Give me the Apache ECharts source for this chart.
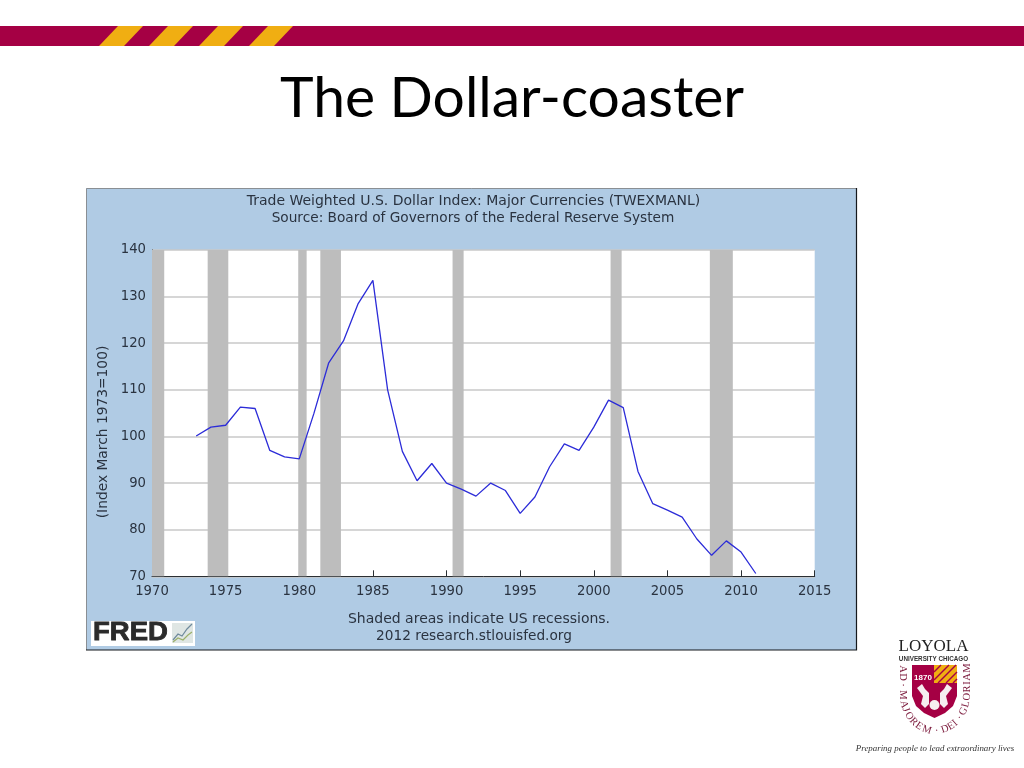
<!DOCTYPE html>
<html><head><meta charset="utf-8">
<style>html,body{margin:0;padding:0;background:#fff}#c{width:1024px;height:768px}</style>
<script src="https://cdn.jsdelivr.net/npm/echarts@6/dist/echarts.min.js"></script>
</head><body><div id="c"></div>
<script>
const years = [1973,1974,1975,1976,1977,1978,1979,1980,1981,1982,1983,1984,1985,1986,1987,1988,1989,1990,1991,1992,1993,1994,1995,1996,1997,1998,1999,2000,2001,2002,2003,2004,2005,2006,2007,2008,2009,2010,2011];
const dollarIndex = [100.1,102,102.4,106.3,106,97,95.6,95.2,105,115.8,120.5,128.5,133.5,110,96.8,90.5,94.2,90,88.7,87.2,90,88.4,83.5,87,93.5,98.4,97,102,107.8,106.2,92.5,85.6,84.2,82.7,78,74.5,77.6,75.2,70.6];
const recessionStarts = [1970,1973.78,1979.93,1981.43,1990.41,2001.14,2007.88];
const recessionEnds = [1970.83,1975.18,1980.5,1982.83,1991.16,2001.89,2009.44];
const chartTitle = 'Trade Weighted U.S. Dollar Index: Major Currencies (TWEXMANL)';
const chartSource = 'Source: Board of Governors of the Federal Reserve System';
const yAxisName = '(Index March 1973=100)';
const noteLines = ['Shaded areas indicate US recessions.', '2012 research.stlouisfed.org'];
const slideTitle = 'The Dollar-coaster';
const motto = 'AD · MAJOREM · DEI · GLORIAM';

const crimson = '#a50044', gold = '#f0ae12', panel = '#b0cbe4', ink = '#2a3340';
const font = '"DejaVu Sans"';
const el = [];
// banner
el.push({type:'rect',shape:{x:0,y:26,width:1024,height:20},style:{fill:crimson}});
[99,149,199,249].forEach(x=>el.push({type:'polygon',shape:{points:[[x,46],[x+19,26],[x+44,26],[x+25,46]]},style:{fill:gold}}));
// chart panel
el.push({type:'rect',z:-10,shape:{x:86,y:188,width:771,height:462},style:{fill:panel}});
el.push({type:'polyline',z:-9,shape:{points:[[86.5,650],[86.5,188.5],[857,188.5]]},style:{stroke:'#8a8f94',fill:null,lineWidth:1}});
el.push({type:'polyline',z:-9,shape:{points:[[86,650],[856.5,650],[856.5,188]]},style:{stroke:'#15181c',fill:null,lineWidth:1.2}});
// y axis title, centred on the reference's position rather than the grid's
el.push({type:'text',x:103,y:432,rotation:Math.PI/2,style:{x:0,y:0,text:yAxisName,font:'13.8px '+font,fill:ink,align:'center',verticalAlign:'middle'}});
// FRED logo
el.push({type:'rect',shape:{x:91,y:621,width:104,height:25},style:{fill:'#fff'}});
el.push({type:'text',x:93,y:633.5,scaleX:1.1,style:{x:0,y:0,text:'FRED',font:'900 25px "Liberation Sans"',fill:'#2b2b2b',verticalAlign:'middle',stroke:'#2b2b2b',lineWidth:0.8}});
el.push({type:'rect',shape:{x:172,y:623,width:21,height:20},style:{fill:'#dfe6e4'}});
el.push({type:'polyline',shape:{points:[[173,640],[178,634],[182,636],[187,629],[192,624]]},style:{stroke:'#6f8a9c',fill:null,lineWidth:1.2}});
el.push({type:'polyline',shape:{points:[[173,642],[178,638],[183,640],[188,635],[192,632]]},style:{stroke:'#9cb06a',fill:null,lineWidth:1.2}});
// Loyola logo
el.push({type:'text',style:{x:933.5,y:647,text:'LOYOLA',font:'17px "Liberation Serif"',fill:'#222',align:'center',verticalAlign:'middle'}});
el.push({type:'text',style:{x:933.5,y:659,text:'UNIVERSITY CHICAGO',font:'bold 6.3px "Liberation Sans"',fill:'#333',align:'center',verticalAlign:'middle'}});
el.push({type:'polygon',shape:{points:[[912,665],[957,665],[957,696],[953,706],[945,713],[934.5,718],[924,713],[916,706],[912,696]]},style:{fill:crimson}});
el.push({type:'rect',shape:{x:934,y:665,width:23,height:18},style:{fill:gold}});
[[934,672,941,665],[934,680,949,665],[938,683,956,665],[946,683,957,672],[953,683,957,679]].forEach(p=>
  el.push({type:'line',shape:{x1:p[0],y1:p[1],x2:p[2],y2:p[3]},style:{stroke:crimson,lineWidth:1.5}}));
el.push({type:'text',style:{x:923,y:678,text:'1870',font:'bold 8px "Liberation Sans"',fill:'#fff',align:'center',verticalAlign:'middle'}});
el.push({type:'polygon',shape:{points:[[917,688],[922,684],[925,689],[929,693],[929,704],[925,708],[921,704],[923,696]]},style:{fill:'#f6eef0'}});
el.push({type:'polygon',shape:{points:[[952,688],[947,684],[944,689],[940,693],[940,704],[944,708],[948,704],[946,696]]},style:{fill:'#f6eef0'}});
el.push({type:'circle',shape:{cx:934.5,cy:705,r:5},style:{fill:'#f6eef0'}});
// motto along a U-shaped path round the shield, spaced by measured glyph width
const mottoFont = '10.5px "Liberation Serif"';
const mc = document.createElement('canvas').getContext('2d'); mc.font = mottoFont;
const path = [];
for (let y=664;y<695;y+=1) path.push([903,y]);
for (let d=180;d>=0;d-=3){const a=d*Math.PI/180;path.push([935+32*Math.cos(a),695+36*Math.sin(a)]);}
for (let y=695;y>=664;y-=1) path.push([967,y]);
const cum=[0]; for(let i=1;i<path.length;i++) cum.push(cum[i-1]+Math.hypot(path[i][0]-path[i-1][0],path[i][1]-path[i-1][1]));
const glyphs = motto.split(''); const widths = glyphs.map(c=>mc.measureText(c).width);
const total = widths.reduce((a,b)=>a+b,0); const k = cum[cum.length-1]/total;
let run = 0;
glyphs.forEach((ch,i)=>{
  const s=(run+widths[i]/2)*k; run+=widths[i];
  let j=1; while(j<cum.length-1&&cum[j]<s) j++;
  const p=path[j],q=path[j-1];
  el.push({type:'text',x:p[0],y:p[1],rotation:-Math.atan2(p[1]-q[1],p[0]-q[0]),
    style:{x:0,y:0,text:ch,font:mottoFont,fill:'#7d1c3e',align:'center',verticalAlign:'middle'}});
});
el.push({type:'text',style:{x:935,y:749,text:'Preparing people to lead extraordinary lives',font:'italic 8.9px "Liberation Serif"',fill:'#333',align:'center',verticalAlign:'middle'}});

const textStyle = {fontFamily:font,fontSize:14,fontWeight:'normal',color:ink};
const smallStyle = {...textStyle,fontSize:13.7};
const axisStyle = {fontFamily:font,fontSize:13.2,color:ink};
const chart = echarts.init(document.getElementById('c'),null,{renderer:'canvas'});
chart.setOption({
  animation:false,
  backgroundColor:'#fff',
  title:[
    {text:slideTitle,left:507,top:65,textAlign:'center',textStyle:{fontFamily:'Lato',fontSize:57,fontWeight:'normal',color:'#000'}},
    {text:chartTitle,left:468.5,top:189.5,textAlign:'center',textStyle},
    {text:chartSource,left:468,top:206.5,textAlign:'center',textStyle:smallStyle},
    {text:noteLines[0],left:474,top:607,textAlign:'center',textStyle},
    {text:noteLines[1],left:469,top:624,textAlign:'center',textStyle:smallStyle}
  ],
  grid:{left:152,top:250,width:662.7,height:326.3,show:true,backgroundColor:'#fff',borderWidth:0,containLabel:false},
  xAxis:{type:'value',min:1970,max:2015,interval:5,
    axisLine:{show:true,lineStyle:{color:'#2a2f33',width:1}},
    axisTick:{show:true,inside:true,length:6,lineStyle:{color:'#2a2f33'}},
    axisLabel:{formatter:v=>String(v),margin:9,showMinLabel:true,showMaxLabel:true,...axisStyle},
    splitLine:{show:false}},
  yAxis:{type:'value',min:70,max:140,interval:10,
    axisLine:{show:true,lineStyle:{color:'#2a2f33',width:1}},
    axisTick:{show:true,inside:true,length:6,lineStyle:{color:'#2a2f33'}},
    axisLabel:{margin:6,showMinLabel:true,showMaxLabel:true,...axisStyle},
    splitLine:{show:true,lineStyle:{color:'#c9c9c9',width:1.5}}},
  series:[{
    type:'line',data:years.map((y,i)=>[y,dollarIndex[i]]),
    showSymbol:false,smooth:false,z:5,
    lineStyle:{color:'#2c2cd8',width:1.3},
    markArea:{silent:true,z:1,itemStyle:{color:'#bdbdbd',opacity:1},
      data:recessionStarts.map((s,i)=>[{xAxis:s},{xAxis:recessionEnds[i]}])}
  }],
  graphic:{elements:el}
});
</script></body></html>
